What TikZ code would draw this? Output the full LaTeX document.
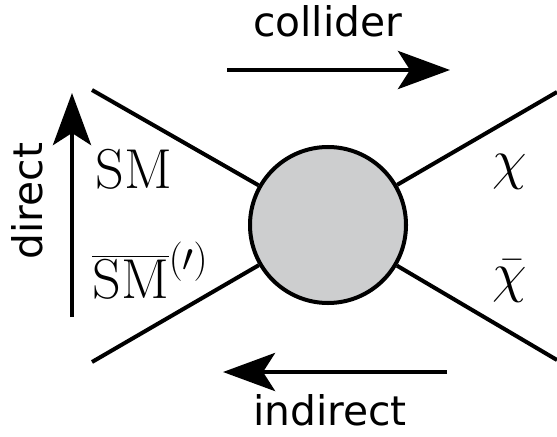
\RequirePackage{fix-cm}
\documentclass[tikz,border=0pt]{standalone}
\usepackage{fontspec}
\setsansfont{DejaVu Sans}
\usetikzlibrary{arrows.meta}
\DeclareMathSizes{40}{40}{28}{20}
\definecolor{blobF}{HTML}{CDCECF}
\tikzset{
  leg/.style={line width=2.85pt},
  blob/.style={circle, draw, fill=blobF, line width=2.85pt, minimum size=3.9cm, inner sep=0pt},
  arr/.style={-{Stealth[length=1.3cm,width=0.95cm,inset=0.3cm]}, line width=3.5pt},
  lab/.style={font=\fontsize{29}{34}\selectfont\sffamily, inner sep=0pt},
  part/.style={font=\fontsize{40}{48}\selectfont, inner sep=0pt},
}

\begin{document}
\begin{tikzpicture}
\useasboundingbox (0,0) rectangle (13.925,10.9);
\node[blob] (blob) at (8.2,5.275) {};
% the four legs
\coordinate (smIn) at (2.3,8.65);
\coordinate (smbarIn) at (2.3,1.85);
\coordinate (chiOut) at (13.925,8.6);
\coordinate (chibarOut) at (13.925,1.9);
\draw[leg] (smIn) -- (blob);
\draw[leg] (smbarIn) -- (blob);
\draw[leg] (chiOut) -- (blob);
\draw[leg] (chibarOut) -- (blob);
\node[part, anchor=base west] (sm) at (2.375,6.2) {$\mathrm{SM}$};
\node[part, anchor=base west] (smbar) at (2.3,3.45) {$\overline{\mathrm{SM}}^{(\prime)}$};
\node[part, anchor=base west] (chi) at (12.3,6.45) {$\chi$};
\node[part, anchor=base west] (chibar) at (12.3,3.625) {$\bar\chi$};
% search channels
\coordinate (collA) at (5.675,9.15);
\coordinate (collB) at (11.25,9.15);
\coordinate (indA) at (11.175,1.6);
\coordinate (indB) at (5.575,1.6);
\coordinate (dirA) at (1.8,2.975);
\coordinate (dirB) at (1.8,8.575);
\draw[arr] (collA) -- (collB);
\draw[arr] (indA) -- (indB);
\draw[arr] (dirA) -- (dirB);
\node[lab, anchor=base] (coll) at (8.19,9.975) {collider};
\node[lab, anchor=base] (ind) at (8.25,0.275) {indirect};
\node[lab, anchor=base, rotate=90] (dir) at (1.05,5.875) {direct};
\end{tikzpicture}
\end{document}
